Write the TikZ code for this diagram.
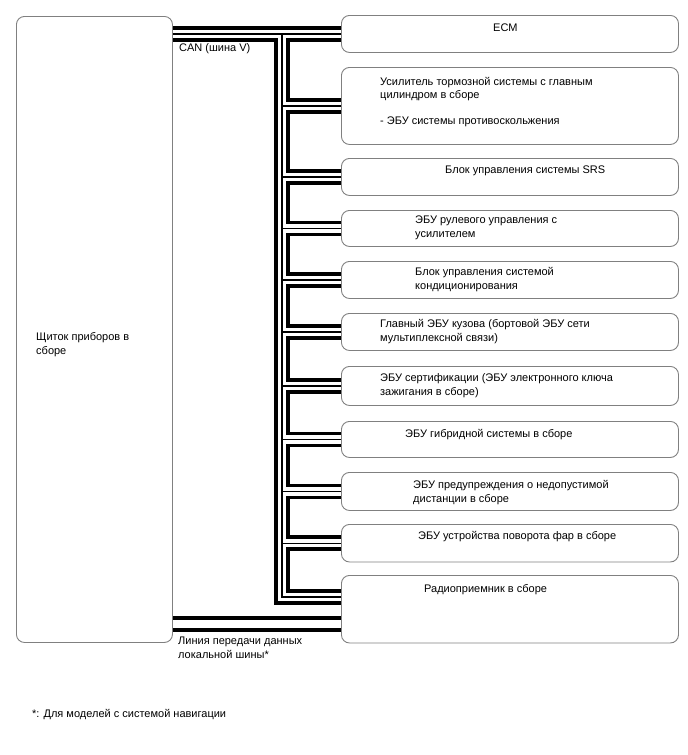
\documentclass[tikz,border=0pt]{standalone}
\usepackage{fontspec}
\setmainfont{Liberation Sans}
\usetikzlibrary{backgrounds}
\definecolor{boxgray}{RGB}{128,128,128}
\begin{document}
\begin{tikzpicture}[x=1pt,y=-1pt,
  box/.style={draw=boxgray, line width=0.9pt, rounded corners=8pt, inner sep=0pt, anchor=north west},
  rbox/.style={box, minimum width=337pt},
  lbl/.style={anchor=base west, inner sep=0pt, align=left, font=\fontsize{11}{13.5}\selectfont},
  busout/.style={line width=15.5pt, black},
  buswhite/.style={line width=8.5pt, white},
  buscore/.style={line width=1.1pt, black},
  localbus/.style={line width=4pt, double=white, double distance=8pt, draw=black},
]
\useasboundingbox (0,0) rectangle (688,755);

% boxes
\node[box, minimum width=156pt, minimum height=626pt] (cl) at (16,16) {};
\node[rbox, minimum height=37pt] (ecm)   at (341,15) {};
\node[rbox, minimum height=77pt] (brake) at (341,67) {};
\node[rbox, minimum height=37pt] (srs)   at (341,158) {};
\node[rbox, minimum height=36pt] (ps)    at (341,210) {};
\node[rbox, minimum height=37pt] (ac)    at (341,261) {};
\node[rbox, minimum height=37pt] (body)  at (341,313) {};
\node[rbox, minimum height=39pt] (cert)  at (341,366) {};
\node[rbox, minimum height=36pt] (hyb)   at (341,421) {};
\node[rbox, minimum height=38pt] (dist)  at (341,472) {};
\node[rbox, minimum height=37.5pt] (head) at (341,524) {};
\node[rbox, minimum height=67.5pt] (radio) at (341,575) {};

% labels (anchor = baseline of the last line)
\node[lbl] (tcl) at (36,354) {Щиток приборов в\\сборе};
\node[lbl] (tecm) at (493,31.5) {ECM};
\node[lbl] (tbrake) at (380,124) {Усилитель тормозной системы с главным\\цилиндром в сборе\\[12pt]- ЭБУ системы противоскольжения};
\node[lbl] (tsrs) at (445,173) {Блок управления системы SRS};
\node[lbl] (tps) at (415,237) {ЭБУ рулевого управления с\\усилителем};
\node[lbl] (tac) at (415,289) {Блок управления системой\\кондиционирования};
\node[lbl] (tbody) at (380,341) {Главный ЭБУ кузова (бортовой ЭБУ сети\\мультиплексной связи)};
\node[lbl] (tcert) at (380,395) {ЭБУ сертификации (ЭБУ электронного ключа\\зажигания в сборе)};
\node[lbl] (thyb) at (405,437) {ЭБУ гибридной системы в сборе};
\node[lbl] (tdist) at (413,502) {ЭБУ предупреждения о недопустимой\\дистанции в сборе};
\node[lbl] (thead) at (418,539) {ЭБУ устройства поворота фар в сборе};
\node[lbl] (tradio) at (424,592) {Радиоприемник в сборе};
\node[lbl] (tcan) at (179,51.5) {CAN (шина V)};
\node[lbl] (tlocal) at (178,658) {Линия передачи данных\\локальной шины*};
\node[lbl] (tnote) at (32,717) {*: Для моделей с системой навигации};

% bus coordinates
\coordinate (vx) at (282,0);
\coordinate (vbot) at (282,597);
\coordinate (lb) at (200,623.5);

\begin{scope}[on background layer]
\foreach \st in {busout,buswhite,buscore}{
  \draw[\st] (cl.east |- ecm.west) -- (ecm.west);
  \draw[\st] (vx |- ecm.west) -- (vbot) -- (radio.west |- vbot);
  \foreach \b in {brake,srs,ps,ac,body,cert,hyb,dist,head}{
    \draw[\st] (vx |- \b.west) -- (\b.west);
  }
}
\draw[localbus] (cl.east |- lb) -- (radio.west |- lb);
\end{scope}
\end{tikzpicture}
\end{document}
